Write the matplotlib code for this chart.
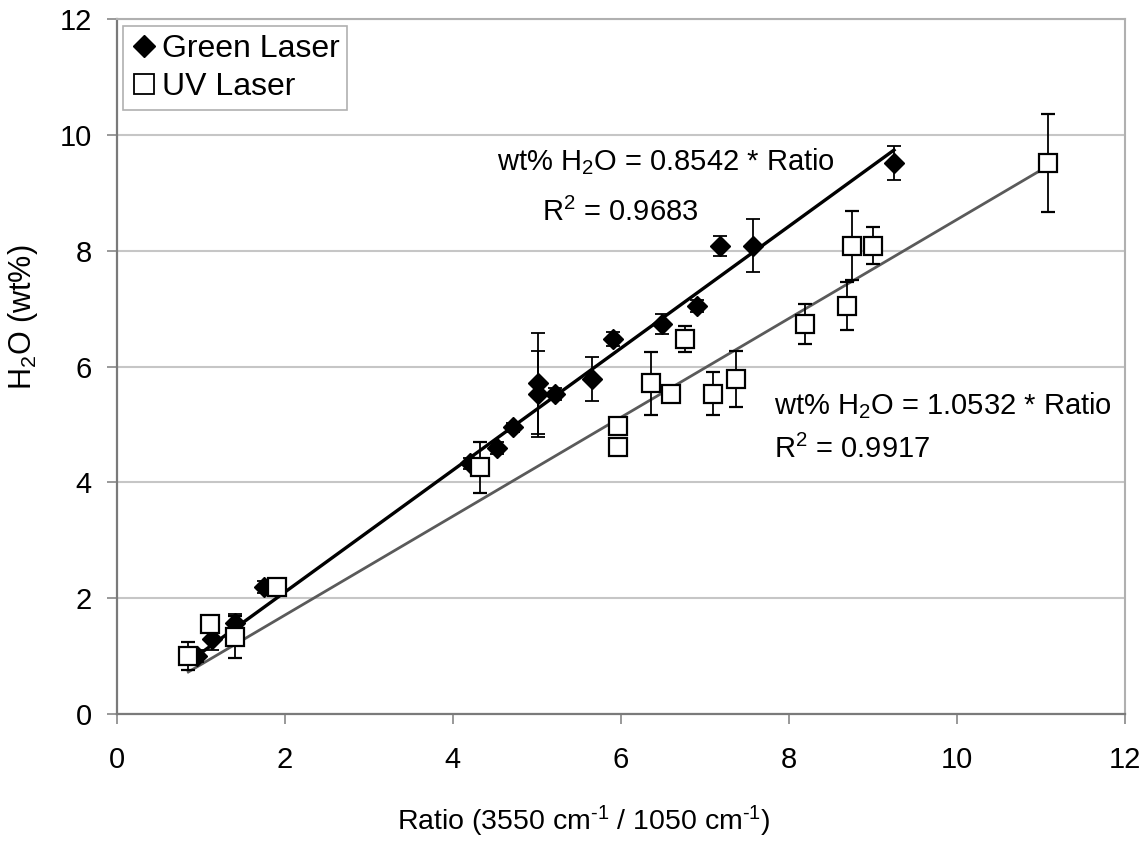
import numpy as np
import matplotlib
matplotlib.use("Agg")
from matplotlib import pyplot as plt
from matplotlib.lines import Line2D

plt.rcParams['font.family'] = ['Liberation Sans', 'DejaVu Sans']
plt.rcParams['mathtext.fontset'] = 'custom'
plt.rcParams['mathtext.rm'] = 'Liberation Sans'
plt.rcParams['mathtext.it'] = 'Liberation Sans:italic'

# green laser calibration points
green_ratio = [0.95, 1.13, 1.40, 1.75, 4.20, 4.52, 4.71, 5.01, 5.01, 5.21,
               5.65, 5.90, 6.49, 6.90, 7.18, 7.57, 9.25]
green_h2o = [1.00, 1.30, 1.57, 2.19, 4.33, 4.60, 4.95, 5.71, 5.53, 5.53,
             5.79, 6.48, 6.74, 7.05, 8.09, 8.09, 9.52]
green_err = [0.10, 0.20, 0.15, 0.10, 0.10, 0.10, 0.08, 0.87, 0.74, 0.10,
             0.38, 0.12, 0.17, 0.10, 0.17, 0.46, 0.30]

# UV laser calibration points
uv_ratio = [0.85, 1.11, 1.40, 1.90, 4.32, 5.96, 5.96, 6.36, 6.60, 6.76,
            7.10, 7.37, 8.19, 8.69, 8.75, 9.00, 11.08]
uv_h2o = [1.00, 1.55, 1.33, 2.19, 4.26, 4.98, 4.62, 5.71, 5.52, 6.48,
          5.53, 5.79, 6.74, 7.05, 8.09, 8.09, 9.52]
uv_err = [0.24, 0.10, 0.36, 0.10, 0.44, 0.10, 0.10, 0.55, 0.10, 0.23,
          0.37, 0.48, 0.35, 0.42, 0.60, 0.32, 0.84]

green_slope = 1.0532
uv_slope = 0.8542

fig = plt.figure(figsize=(11.46, 8.41), dpi=100)
ax = fig.add_axes([0.102, 0.151, 0.8797, 0.826])

ax.grid(axis='y', color='#c6c6c6', linewidth=1.5, zorder=0)

# fit lines through the origin, drawn over each data range
gx = np.array([min(green_ratio), max(green_ratio)])
ux = np.array([min(uv_ratio), max(uv_ratio)])
ax.plot(gx, green_slope * gx, color='black', linewidth=2.4, zorder=2)
ax.plot(ux, uv_slope * ux, color='#5a5a5a', linewidth=2.0, zorder=2)

ax.errorbar(green_ratio, green_h2o, yerr=green_err, fmt='D', color='black',
            markersize=10, ecolor='black', elinewidth=1.3, capsize=5,
            capthick=1.3, zorder=3)
ax.errorbar(uv_ratio, uv_h2o, yerr=uv_err, fmt='s', markerfacecolor='white',
            markeredgecolor='black', markeredgewidth=1.6, markersize=13,
            ecolor='black', elinewidth=1.3, capsize=5, capthick=1.3,
            zorder=4)

ax.text(4.52, 9.55, 'wt% H$_2$O = 0.8542 * Ratio', fontsize=21, va='center')
ax.text(5.06, 8.66, 'R$^2$ = 0.9683', fontsize=21, va='center')
ax.text(7.82, 5.33, 'wt% H$_2$O = 1.0532 * Ratio', fontsize=21, va='center')
ax.text(7.82, 4.57, 'R$^2$ = 0.9917', fontsize=21, va='center')

ax.set_xlim(0, 12)
ax.set_ylim(0, 12)
ax.set_xticks(range(0, 13, 2))
ax.set_yticks(range(0, 13, 2))
ax.tick_params(axis='both', direction='out', length=7, width=1.2,
               color='#888888', labelsize=21)
ax.tick_params(axis='x', pad=16)
ax.tick_params(axis='y', pad=11)

for side in ['left', 'bottom']:
    ax.spines[side].set_color('#7a7a7a')
    ax.spines[side].set_linewidth(1.6)
for side in ['top', 'right']:
    ax.spines[side].set_color('#b0b0b0')
    ax.spines[side].set_linewidth(1.5)

ax.set_xlabel(r'Ratio (3550 cm$^{\text{-1}}$ / 1050 cm$^{\text{-1}}$)', fontsize=20.5)
ax.xaxis.set_label_coords(0.463, -0.129)
ax.set_ylabel('H$_2$O (wt%)', fontsize=22)
ax.yaxis.set_label_coords(-0.076, 0.571)

handles = [
    Line2D([], [], linestyle='none', marker='D', color='black', markersize=11),
    Line2D([], [], linestyle='none', marker='s', markerfacecolor='white',
           markeredgecolor='black', markeredgewidth=1.3, markersize=14),
]
leg = ax.legend(handles, ['Green Laser', 'UV Laser'], loc='upper left',
                fontsize=23, handletextpad=0.15, handlelength=0.8,
                borderpad=0.25, labelspacing=0.25, fancybox=False,
                framealpha=1, borderaxespad=0.2)
leg.get_frame().set_edgecolor('#b0b0b0')
leg.get_frame().set_linewidth(1.2)

plt.savefig('out.png', dpi=100)
